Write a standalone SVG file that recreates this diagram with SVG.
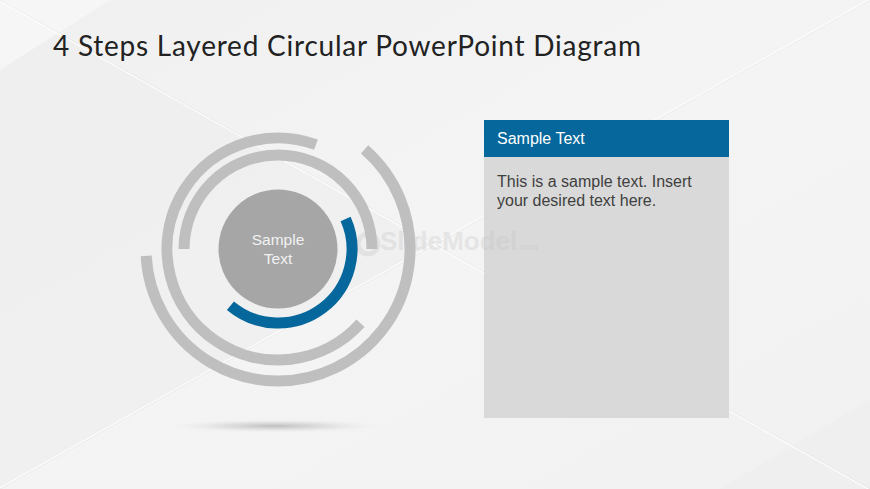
<svg xmlns="http://www.w3.org/2000/svg" width="870" height="489" viewBox="0 0 870 489">
  <defs>
    <radialGradient id="shadowGrad" cx="0.5" cy="0.5" r="0.5">
      <stop offset="0" stop-color="#b8b8b8" stop-opacity="0.9"/>
      <stop offset="0.5" stop-color="#cfcfcf" stop-opacity="0.5"/>
      <stop offset="1" stop-color="#f2f2f2" stop-opacity="0"/>
    </radialGradient>
    <linearGradient id="bgGrad" x1="0" y1="0" x2="1" y2="1">
      <stop offset="0" stop-color="#f0f0f0"/>
      <stop offset="0.5" stop-color="#f4f4f4"/>
      <stop offset="1" stop-color="#f1f1f1"/>
    </linearGradient>
  </defs>
  <style>
    .ring { fill: none; stroke: #bfbfbf; stroke-width: 11; stroke-linecap: butt; }
    .accent { fill: none; stroke: #05679b; stroke-width: 11; stroke-linecap: butt; }
    .title { font-family: Lato, "Open Sans", "Liberation Sans", sans-serif; font-size: 28px; fill: #222222; }
    .sans { font-family: "Liberation Sans", Arial, sans-serif; }
    .bgline { stroke: #ffffff; stroke-width: 1.2; opacity: 0.9; }
    .bgline2 { stroke: #dadada; stroke-width: 0.8; opacity: 0.5; }
    .wm { font-family: "Liberation Sans", Arial, sans-serif; font-weight: bold; fill: #c4c4c4; opacity: 0.3; }
  </style>

  <!-- background -->
  <g id="background">
    <rect x="0" y="0" width="870" height="489" fill="url(#bgGrad)"/>
    <polygon points="0,0 435,244.5 0,489" fill="#eeeeee" opacity="0.7"/>
    <polygon points="0,0 110,0 0,70" fill="#f7f7f7" opacity="0.8"/>
    <polygon points="870,489 870,400 720,489" fill="#eeeeee" opacity="0.7"/>
    <line class="bgline2" x1="0" y1="0" x2="870" y2="489"/>
    <line class="bgline2" x1="0" y1="489" x2="870" y2="0"/>
    <line class="bgline" x1="0" y1="1" x2="870" y2="490"/>
    <line class="bgline" x1="0" y1="488" x2="870" y2="-1"/>
  </g>

  <!-- title -->
  <g id="title">
    <text class="title" x="53" y="56" textLength="588">4 Steps Layered Circular PowerPoint Diagram</text>
  </g>

  <!-- text box -->
  <g id="text-box">
    <rect x="484" y="157" width="245" height="261" fill="#d9d9d9"/>
    <rect x="484" y="120" width="245" height="37" fill="#05679b"/>
    <text class="sans" x="497" y="144" font-size="16" fill="#ffffff">Sample Text</text>
    <text class="sans" x="497" y="187" font-size="16" fill="#404040">This is a sample text. Insert</text>
    <text class="sans" x="497" y="206" font-size="16" fill="#404040">your desired text here.</text>
  </g>

  <!-- watermark -->
  <g id="watermark">
    <circle cx="368" cy="244" r="10" fill="none" stroke="#c4c4c4" stroke-width="5" opacity="0.3"/>
    <text class="wm" x="380" y="250" font-size="26">SlideModel</text>
    <text class="wm" x="517" y="250" font-size="9" font-weight="normal">.com</text>
  </g>

  <!-- shadow under diagram -->
  <ellipse id="shadow" cx="275" cy="426" rx="110" ry="7" fill="url(#shadowGrad)"/>

  <!-- rings (connector-like arcs) -->
  <g id="rings">
    <path id="ring-4" class="ring" d="M 364.6 149.38 A 132 132 0 1 1 146.18 255.91"/>
    <path id="ring-3" class="ring" d="M 360.49 323.27 A 111 111 0 1 1 315.96 144.69"/>
    <path id="ring-2" class="ring" d="M 184 249 A 94 94 0 0 1 372 249"/>
    <path id="ring-1" class="accent" d="M 345.6 218.9 A 74 74 0 0 1 230.43 305.69"/>
  </g>

  <!-- center node -->
  <g id="center-node">
    <circle cx="278" cy="249" r="59.5" fill="#a6a6a6"/>
    <text class="sans" x="278" y="245" font-size="15.5" fill="#f2f2f2" text-anchor="middle">Sample</text>
    <text class="sans" x="278" y="264" font-size="15.5" fill="#f2f2f2" text-anchor="middle">Text</text>
  </g>
</svg>
